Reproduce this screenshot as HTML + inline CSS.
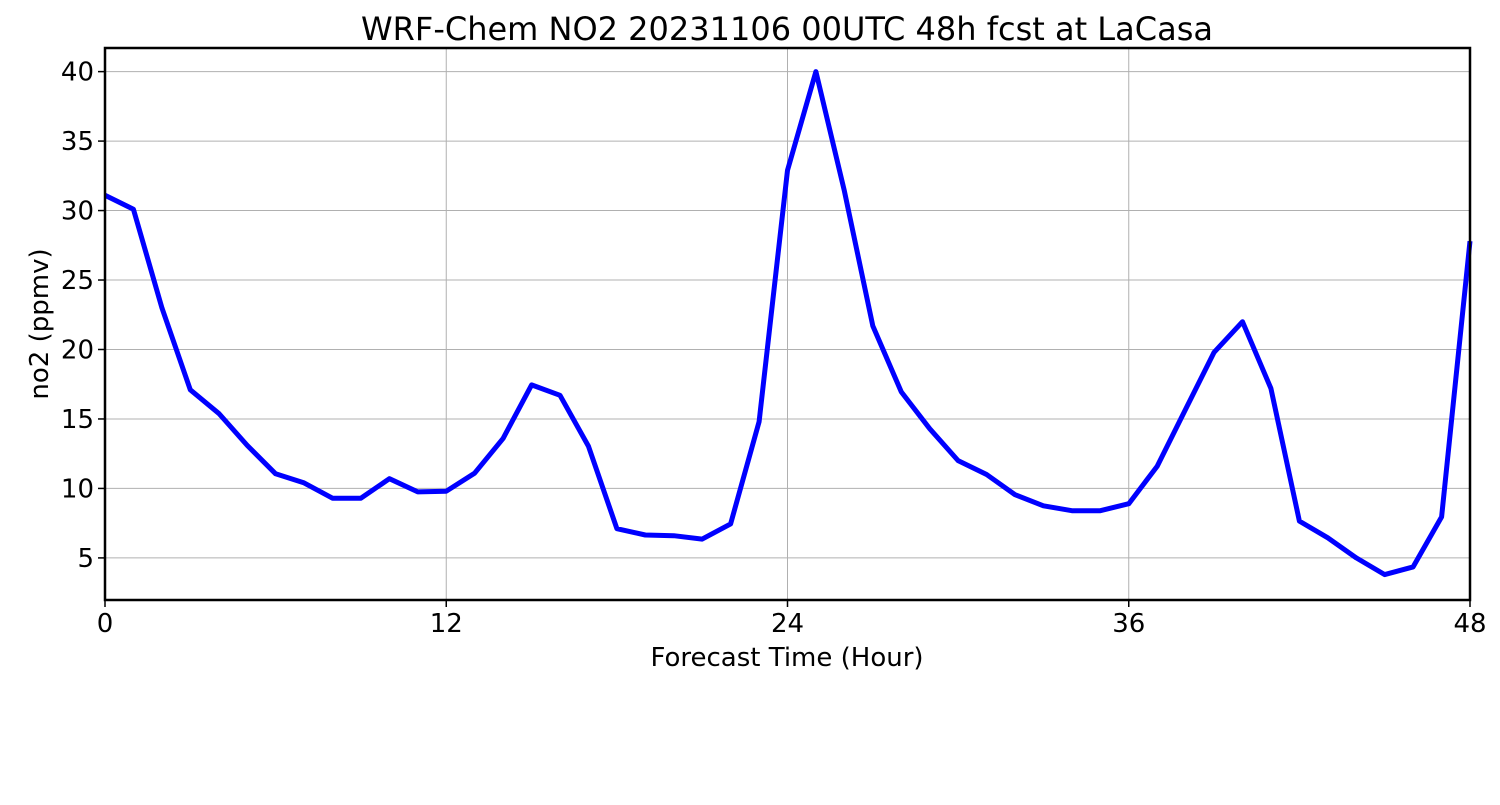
<!DOCTYPE html>
<html><head><meta charset="utf-8"><style>
body{margin:0;background:#fff;}
svg text{font-family:"DejaVu Sans","Liberation Sans",sans-serif;fill:#000;}
</style></head><body>
<svg id="chart" width="1500" height="800" xmlns="http://www.w3.org/2000/svg">
<rect width="1500" height="800" fill="#fff"/>
<text x="787" y="40" font-size="32" text-anchor="middle">WRF-Chem NO2  20231106 00UTC 48h fcst at LaCasa</text>
<g id="grid"></g>
<g id="ticks"></g>
<path id="line" fill="none" stroke="#0000ff" stroke-width="5" stroke-linejoin="round"/>
<rect x="105" y="48" width="1365" height="552" fill="none" stroke="#000" stroke-width="2.5"/>
<text x="787" y="666" font-size="26" text-anchor="middle">Forecast Time (Hour)</text>
<text transform="translate(48,324) rotate(-90)" font-size="26" text-anchor="middle">no2  (ppmv)</text>
</svg>
<script>
const hours=[0,1,2,3,4,5,6,7,8,9,10,11,12,13,14,15,16,17,18,19,20,21,22,23,24,25,26,27,28,29,30,31,32,33,34,35,36,37,38,39,40,41,42,43,44,45,46,47,48];
const no2=[31.1,30.1,23.0,17.1,15.4,13.1,11.05,10.4,9.3,9.3,10.7,9.75,9.8,11.1,13.6,17.45,16.7,13.05,7.1,6.65,6.6,6.35,7.45,14.8,32.9,40.0,31.4,21.7,16.95,14.3,12.0,11.0,9.55,8.75,8.4,8.4,8.9,11.6,15.7,19.8,22.0,17.2,7.65,6.45,5.0,3.8,4.35,7.95,27.8];
const xTicks=[0,12,24,36,48];
const yTicks=[5,10,15,20,25,30,35,40];
const X0=105,X1=1470,xMin=0,xMax=48;
const yMin=1.97,yMax=41.7,Y0=600,Y1=48;
const xs=v=>X0+(v-xMin)/(xMax-xMin)*(X1-X0);
const ys=v=>Y0-(v-yMin)/(yMax-yMin)*(Y0-Y1);
const NS="http://www.w3.org/2000/svg";
const grid=document.getElementById('grid'),ticks=document.getElementById('ticks');
function mk(tag,attrs,parent){const e=document.createElementNS(NS,tag);for(const k in attrs)e.setAttribute(k,attrs[k]);parent.appendChild(e);return e;}
xTicks.forEach(t=>{const x=xs(t);
 const g=mk('line',{x1:x,x2:x,y1:Y1,y2:Y0,stroke:'#b0b0b0','stroke-width':1},grid);
 
 
 const tk=mk('line',{x1:x,x2:x,y1:Y0,y2:Y0+7,stroke:'#000','stroke-width':1.5},ticks);
 
 
 const tx=mk('text',{x:x,y:632,'font-size':26,'text-anchor':'middle'},ticks);tx.textContent=t;
 
 
});
yTicks.forEach(t=>{const y=ys(t);
 const g=mk('line',{x1:X0,x2:X1,y1:y,y2:y,stroke:'#b0b0b0','stroke-width':1},grid);
 
 
 const tk=mk('line',{x1:X0-7,x2:X0,y1:y,y2:y,stroke:'#000','stroke-width':1.5},ticks);
 
 
 const tx=mk('text',{x:X0-11,y:y+9,'font-size':26,'text-anchor':'end'},ticks);tx.textContent=t;
 
 
});
document.getElementById('line').setAttribute('d',hours.map((h,i)=>(i?'L':'M')+xs(h).toFixed(1)+' '+ys(no2[i]).toFixed(1)).join(' '));
</script>
</body></html>
